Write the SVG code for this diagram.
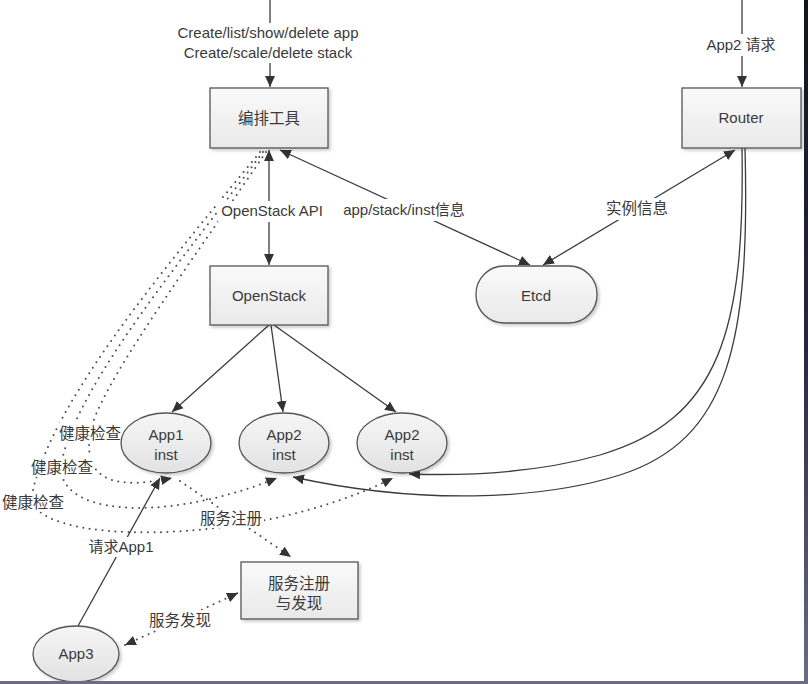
<svg xmlns="http://www.w3.org/2000/svg" width="808" height="684" viewBox="0 0 808 684">
<defs>
<style>
.t{font-family:"Liberation Sans","Noto Sans CJK SC",sans-serif;font-size:15px;fill:#3a3a3a;text-anchor:middle}
.cj{font-family:"Noto Sans CJK SC","Liberation Sans",sans-serif;font-size:15.5px;fill:#3a3a3a;text-anchor:middle}
.ln{fill:none;stroke:#3c3c3c;stroke-width:1.3}
.dt{fill:none;stroke:#4a4a4a;stroke-width:2;stroke-linecap:round;stroke-dasharray:0 6.5}
.box{fill:url(#gb);stroke:#555;stroke-width:1.3;filter:url(#sh)}
.ell{fill:url(#ge);stroke:#555;stroke-width:1.3;filter:url(#sh)}
.bg{fill:#fff}
</style>
<linearGradient id="gb" x1="0" y1="0" x2="0" y2="1"><stop offset="0" stop-color="#fafafa"/><stop offset="1" stop-color="#e9e9e9"/></linearGradient>
<linearGradient id="ge" x1="0" y1="0" x2="0" y2="1"><stop offset="0" stop-color="#f6f6f6"/><stop offset="1" stop-color="#e2e2e2"/></linearGradient>
<linearGradient id="gr" x1="0" y1="0" x2="0" y2="1"><stop offset="0" stop-color="#14141c"/><stop offset="0.5" stop-color="#262640"/><stop offset="1" stop-color="#6e6c84"/></linearGradient>
<filter id="sh" x="-10%" y="-10%" width="130%" height="130%"><feDropShadow dx="2" dy="2" stdDeviation="1.5" flood-color="#000" flood-opacity="0.2"/></filter>
<marker id="ah" viewBox="0 0 10 10" refX="10" refY="5" markerWidth="11" markerHeight="11" markerUnits="userSpaceOnUse" orient="auto-start-reverse"><path d="M0,0.5 L10,5 L0,9.5 z" fill="#333"/></marker>
</defs>
<rect width="808" height="684" fill="#fff"/>

<g id="connectors">
<line class="ln" x1="270" y1="0" x2="270" y2="87" marker-end="url(#ah)"/>
<line class="ln" x1="742" y1="0" x2="742" y2="87" marker-end="url(#ah)"/>
<line class="ln" x1="269" y1="150" x2="269" y2="265" marker-start="url(#ah)" marker-end="url(#ah)"/>
<line class="ln" x1="280" y1="150" x2="530" y2="265" marker-start="url(#ah)" marker-end="url(#ah)"/>
<line class="ln" x1="735" y1="150" x2="543" y2="265" marker-start="url(#ah)" marker-end="url(#ah)"/>
<line class="ln" x1="269" y1="325" x2="172" y2="412" marker-end="url(#ah)"/>
<line class="ln" x1="271" y1="325" x2="283" y2="412" marker-end="url(#ah)"/>
<line class="ln" x1="274" y1="325" x2="396" y2="412" marker-end="url(#ah)"/>
<path class="ln" d="M742 148 C745 330 720 420 600 455 C540 472 470 476 409 474" marker-end="url(#ah)"/>
<path class="ln" d="M745 148 C750 340 730 440 620 475 C540 500 420 505 293 477" marker-end="url(#ah)"/>
<line class="ln" x1="78" y1="626" x2="160" y2="478" marker-end="url(#ah)"/>
<path class="dt" d="M266 152 C200 250 110 370 92 425 C80 475 105 492 172 478" marker-end="url(#ah)"/>
<path class="dt" d="M263 152 C190 250 80 380 62 460 C50 515 160 525 277 478" marker-end="url(#ah)"/>
<path class="dt" d="M260 152 C180 250 50 400 32 495 C25 545 250 550 393 478" marker-end="url(#ah)"/>
<line class="dt" x1="180" y1="481" x2="291" y2="557" marker-end="url(#ah)"/>
<line class="dt" x1="125" y1="645" x2="238" y2="593" marker-start="url(#ah)" marker-end="url(#ah)"/>
</g>

<g id="labels">
<rect class="bg" x="168" y="23" width="200" height="40"/>
<text class="t" x="268" y="38">Create/list/show/delete app</text>
<text class="t" x="268" y="58">Create/scale/delete stack</text>
<rect class="bg" x="700" y="34" width="84" height="22"/>
<text class="t" x="741" y="50">App2 请求</text>
<rect class="bg" x="218" y="201" width="108" height="21"/>
<text class="t" x="272" y="216">OpenStack API</text>
<rect class="bg" x="334" y="199" width="140" height="22"/>
<text class="t" x="404" y="215">app/stack/inst信息</text>
<rect class="bg" x="602" y="198" width="70" height="22"/>
<text class="cj" x="637" y="214">实例信息</text>
<rect class="bg" x="58" y="423" width="63" height="20"/>
<text class="cj" x="90" y="439">健康检查</text>
<rect class="bg" x="29" y="457" width="66" height="20"/>
<text class="cj" x="62" y="473">健康检查</text>
<rect class="bg" x="0" y="492" width="66" height="20"/>
<text class="cj" x="33" y="508">健康检查</text>
<rect class="bg" x="198" y="508" width="66" height="20"/>
<text class="cj" x="231" y="524">服务注册</text>
<rect class="bg" x="86" y="537" width="70" height="20"/>
<text class="t" x="121" y="552">请求App1</text>
<rect class="bg" x="146" y="610" width="68" height="20"/>
<text class="cj" x="180" y="626">服务发现</text>
</g>

<g id="node-orchestrator">
<rect class="box" x="210" y="88" width="118" height="60"/>
<text class="cj" x="269" y="124">编排工具</text>
</g>
<g id="node-router">
<rect class="box" x="682" y="88" width="119" height="60"/>
<text class="t" x="741" y="123">Router</text>
</g>
<g id="node-openstack">
<rect class="box" x="210" y="266" width="118" height="59"/>
<text class="t" x="269" y="301">OpenStack</text>
</g>
<g id="node-etcd">
<rect class="box" x="476" y="266" width="121" height="57" rx="28" ry="28"/>
<text class="t" x="536" y="301">Etcd</text>
</g>
<g id="node-app1-inst">
<ellipse class="ell" cx="166" cy="443" rx="45" ry="30"/>
<text class="t" x="166" y="440">App1</text>
<text class="t" x="166" y="460">inst</text>
</g>
<g id="node-app2-inst-a">
<ellipse class="ell" cx="284" cy="443" rx="45" ry="30"/>
<text class="t" x="284" y="440">App2</text>
<text class="t" x="284" y="460">inst</text>
</g>
<g id="node-app2-inst-b">
<ellipse class="ell" cx="402" cy="443" rx="45" ry="30"/>
<text class="t" x="402" y="440">App2</text>
<text class="t" x="402" y="460">inst</text>
</g>
<g id="node-registry">
<rect class="box" x="241" y="562" width="117" height="57"/>
<text class="cj" x="299" y="589">服务注册</text>
<text class="cj" x="299" y="609">与发现</text>
</g>
<g id="node-app3">
<ellipse class="ell" cx="76" cy="654" rx="43" ry="28"/>
<text class="t" x="76" y="659">App3</text>
</g>

<rect x="804" y="0" width="4" height="684" fill="url(#gr)"/>
<rect x="0" y="681" width="808" height="3" fill="#6e6c84"/>
</svg>
